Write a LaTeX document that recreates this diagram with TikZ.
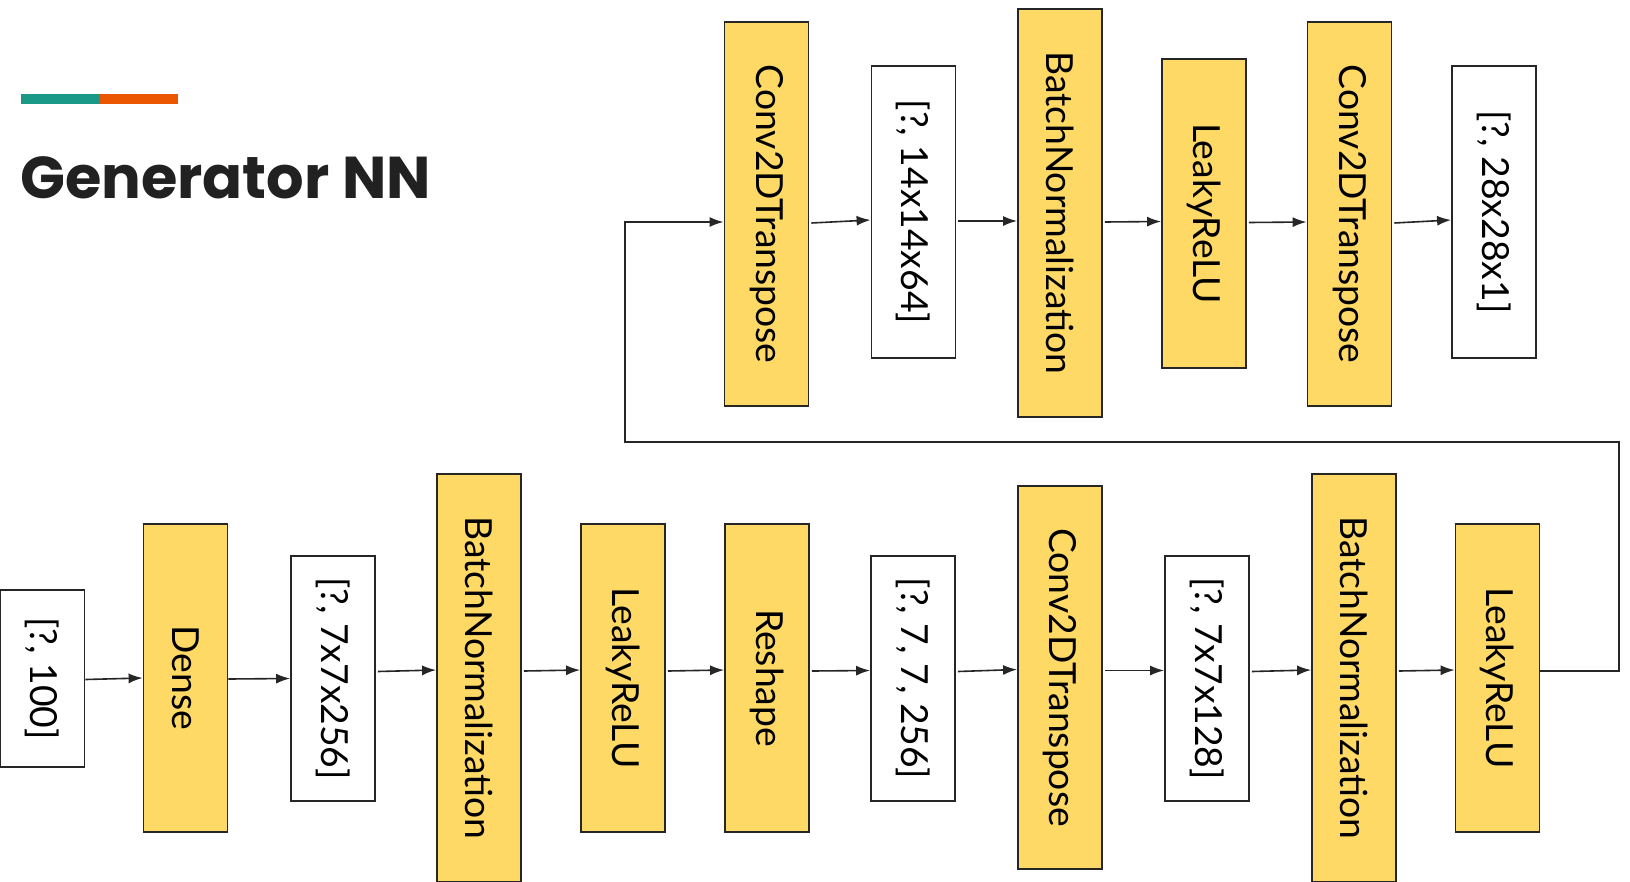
\documentclass[tikz,border=0pt]{standalone}
\usepackage{fontspec}
\setmainfont{Lato}
\newfontfamily\titlefont{Poppins}
\usetikzlibrary{arrows.meta}
\definecolor{boxyellow}{HTML}{FFD966}
\definecolor{boxline}{HTML}{262626}
\definecolor{teal}{HTML}{1A9988}
\definecolor{orng}{HTML}{EB5600}
\definecolor{titlecol}{HTML}{212121}
\newcommand{\rlab}[1]{\rotatebox[origin=c]{-90}{#1}}
\tikzset{
  layerbox/.style={draw=boxline, line width=1.8pt, fill=boxyellow, minimum width=84pt, inner sep=0pt,
    font=\fontsize{37.3}{41}\selectfont},
  shapebox/.style={draw=boxline, line width=1.8pt, fill=white, minimum width=84pt, inner sep=0pt,
    font=\fontsize{37.3}{41}\selectfont},
  arr/.style={draw=boxline, line width=1.6pt, -{Latex[length=14pt,width=10pt]}},
}
\begin{document}
\begin{tikzpicture}[x=1pt,y=-1pt]
\useasboundingbox (0,0) rectangle (1630,881);
\fill[white] (0,0) rectangle (1630,881);
% title
\fill[teal] (21,94) rectangle (100,104);
\fill[orng] (100,94) rectangle (178,104);
\node[anchor=base west, inner sep=0pt, text=titlecol, font=\titlefont\bfseries\fontsize{59}{64}\selectfont] (title) at (20,198) {Generator NN};
% bottom row
\node[shapebox, minimum height=177pt] (in100) at (42.5,678.5) {\rlab{[?, 100]}};
\node[layerbox, minimum height=308pt] (dense) at (185.5,678) {\rlab{Dense}};
\node[shapebox, minimum height=245pt] (s1) at (333,678.5) {\rlab{[?, 7x7x256]}};
\node[layerbox, minimum height=408pt] (bn1) at (479,678) {\rlab{BatchNormalization}};
\node[layerbox, minimum height=308pt] (lr1) at (623,678) {\rlab{LeakyReLU}};
\node[layerbox, minimum height=308pt] (reshape) at (767,678) {\rlab{Reshape}};
\node[shapebox, minimum height=245pt] (s2) at (913,678.5) {\rlab{[?, 7, 7, 256]}};
\node[layerbox, minimum height=383pt] (ct1) at (1060,677.5) {\rlab{Conv2DTranspose}};
\node[shapebox, minimum height=245pt] (s3) at (1207,678.5) {\rlab{[?, 7x7x128]}};
\node[layerbox, minimum height=408pt] (bn2) at (1354,678) {\rlab{BatchNormalization}};
\node[layerbox, minimum height=308pt] (lr2) at (1497.5,678) {\rlab{LeakyReLU}};
% top row
\node[layerbox, minimum height=384pt] (ct2) at (766.5,214) {\rlab{Conv2DTranspose}};
\node[shapebox, minimum height=292pt] (s4) at (913.5,212) {\rlab{[?, 14x14x64]}};
\node[layerbox, minimum height=408pt] (bn3) at (1060,213) {\rlab{BatchNormalization}};
\node[layerbox, minimum height=309pt] (lr3) at (1204,213.5) {\rlab{LeakyReLU}};
\node[layerbox, minimum height=384pt] (ct3) at (1349.5,214) {\rlab{Conv2DTranspose}};
\node[shapebox, minimum height=292pt] (s5) at (1494,212) {\rlab{[?, 28x28x1]}};
% bottom arrows
\draw[arr] ([yshift=-1pt]in100.east) -- ([yshift=0pt]dense.west);
\draw[arr] ([yshift=-1pt]dense.east) -- ([yshift=0pt]s1.west);
\foreach \a/\b in {s1/bn1, bn1/lr1, lr1/reshape, reshape/s2, s2/ct1, ct1/s3, s3/bn2, bn2/lr2}
  \draw[arr] ([xshift=2pt,yshift=7pt]\a.east) -- ([yshift=8pt]\b.west);
% top arrows
\foreach \a/\b in {ct2/s4, s4/bn3, bn3/lr3, lr3/ct3, ct3/s5}
  \draw[arr] ([xshift=2pt,yshift=-9pt]\a.east) -- ([yshift=-8pt]\b.west);
% loop connector
\coordinate (loopR) at (1619,442);
\coordinate (loopL) at (625,442);
\draw[arr] ([yshift=7pt]lr2.east) -| (loopR) -- (loopL) |- ([yshift=-8pt]ct2.west);
\end{tikzpicture}
\end{document}
